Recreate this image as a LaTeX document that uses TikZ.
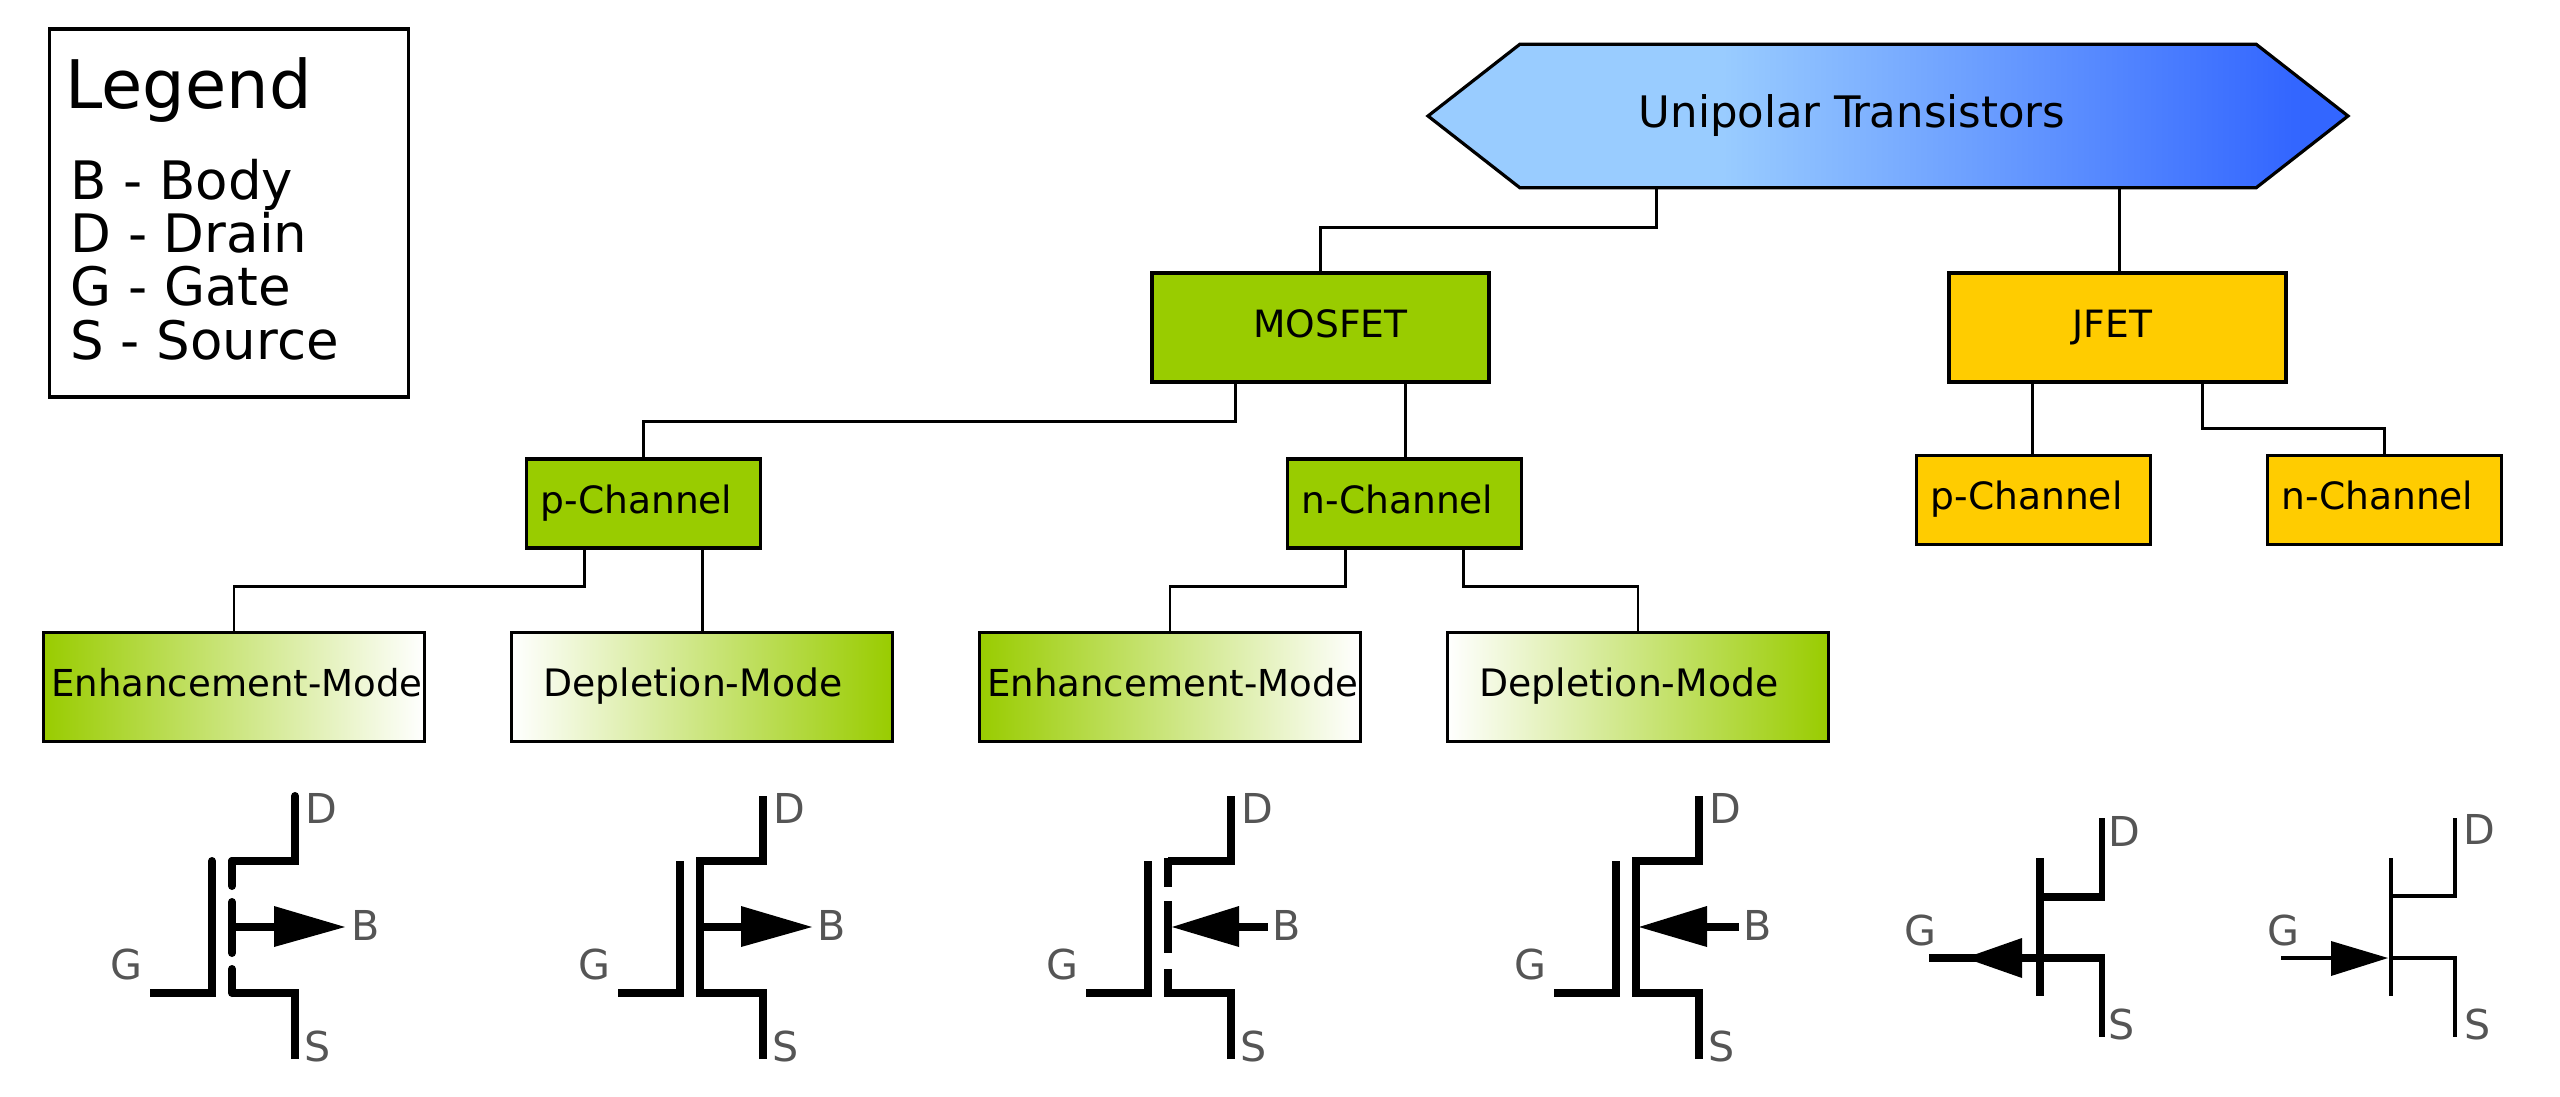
\documentclass[tikz,border=0pt]{standalone}
\usepackage{fontspec}
\setmainfont{DejaVu Sans}
\usetikzlibrary{shapes, positioning, calc}
\definecolor{mosgreen}{HTML}{99CC00}
\definecolor{jfetyellow}{HTML}{FFCC00}
\definecolor{pingray}{HTML}{555555}
\definecolor{skylight}{HTML}{99CCFF}
\definecolor{skydeep}{HTML}{3366FF}
\pgfdeclarehorizontalshading{skyfade}{100bp}{color(0bp)=(skylight); color(41bp)=(skylight); color(72bp)=(skydeep); color(100bp)=(skydeep)}
\tikzstyle{box} = [rectangle, draw, line width=1.6pt, inner sep=0pt, text height=14pt, text depth=4.5pt,
    font=\fontsize{18.8}{22}\selectfont]
\tikzstyle{family} = [box, minimum width=168.5pt, minimum height=54.5pt]
\tikzstyle{channel} = [box, minimum width=117pt, minimum height=44.5pt]
\tikzstyle{enhmode} = [box, text width=190.5pt, align=left, minimum height=54.5pt, left color=mosgreen, right color=white,
    font=\fontsize{18.55}{22}\selectfont]
\tikzstyle{depmode} = [box, minimum width=190.5pt, minimum height=54.5pt, left color=white, right color=mosgreen,
    font=\fontsize{18.9}{22}\selectfont]
\tikzstyle{top} = [signal, signal to=east and west, signal pointer angle=76, draw, line width=1.6pt, inner sep=0pt,
    minimum width=460pt, minimum height=71.8pt, shading=skyfade, text height=15pt, text depth=4pt,
    font=\fontsize{21.7}{26}\selectfont]
\tikzstyle{legendline} = [anchor=base west, inner sep=0pt, font=\fontsize{26.5}{27}\selectfont]
\tikzstyle{line} = [draw, line width=1.4pt]
\tikzstyle{lead} = [draw, line width=4pt]
\tikzstyle{midlead} = [draw, line width=3.2pt]
\tikzstyle{thinlead} = [draw, line width=2pt]
\tikzstyle{pin} = [text=pingray, inner sep=0pt, font=\fontsize{20.6}{24}\selectfont]
\begin{document}
\begin{tikzpicture}[x=0.5pt, y=-0.5pt, node distance=100pt]
        \useasboundingbox (0,0) rectangle (2560,1097);
        % Place legend
        \node [draw, line width=1.6pt, minimum width=179.5pt, minimum height=184pt, inner sep=0pt] (legend) at (229,213) {};
        \node [anchor=base west, inner sep=0pt, font=\fontsize{33.5}{38}\selectfont] (legendtitle) at (65,109) {Legend};
        \node [legendline] (legendb) at (70,199) {B - Body};
        \node [legendline] (legendd) at (70,252) {D - Drain};
        \node [legendline] (legendg) at (70,305) {G - Gate};
        \node [legendline] (legends) at (70,359) {S - Source};
        % Place nodes
        \node [top] (unipolar) at (1888,116) {Unipolar T\kern-4.5pt ransistors\hspace*{36pt}};
        \node [family, fill=mosgreen] (mosfet) at (1320.5,327.5) {\hspace*{10pt}MOSFET};
        \node [family, fill=jfetyellow, right of=mosfet, node distance=398.5pt] (jfet) {JFET\hspace*{5pt}};
        \node [channel, fill=mosgreen] (mosp) at (643.5,503.5) {p-Channel\hspace*{7pt}};
        \node [channel, fill=mosgreen, right of=mosp, node distance=380.5pt] (mosn) {n-Channel\hspace*{7pt}};
        \node [channel, fill=jfetyellow] (jfetp) at (2033.5,500) {p-Channel\hspace*{7pt}};
        \node [channel, fill=jfetyellow, right of=jfetp, node distance=175.5pt] (jfetn) {n-Channel\hspace*{7pt}};
        \node [enhmode] (penh) at (234,687) {\hspace*{3.8pt}Enhancement-Mode};
        \node [depmode, right of=penh, node distance=234pt] (pdep) {Depletion-Mode\hspace*{9pt}};
        \node [enhmode, right of=pdep, node distance=234pt] (nenh) {\hspace*{3.8pt}Enhancement-Mode};
        \node [depmode, right of=nenh, node distance=234pt] (ndep) {Depletion-Mode\hspace*{9pt}};
        % Draw edges
        \coordinate (unipolarl) at ($(unipolar.west |- unipolar.south)!0.25!(unipolar.east |- unipolar.south)$);
        \coordinate (unipolarr) at ($(unipolar.west |- unipolar.south)!0.75!(unipolar.east |- unipolar.south)$);
        \coordinate (mosfetl) at ($(mosfet.south west)!0.25!(mosfet.south east)$);
        \coordinate (mosfetr) at ($(mosfet.south west)!0.75!(mosfet.south east)$);
        \coordinate (jfetl) at ($(jfet.south west)!0.25!(jfet.south east)$);
        \coordinate (jfetr) at ($(jfet.south west)!0.75!(jfet.south east)$);
        \coordinate (mospl) at ($(mosp.south west)!0.25!(mosp.south east)$);
        \coordinate (mospr) at ($(mosp.south west)!0.75!(mosp.south east)$);
        \coordinate (mosnl) at ($(mosn.south west)!0.25!(mosn.south east)$);
        \coordinate (mosnr) at ($(mosn.south west)!0.75!(mosn.south east)$);
        \path [line] (unipolarl) -- ++(0,38) -| (mosfet.north);
        \path [line] (unipolarr) -- (unipolarr |- jfet.north);
        \path [line] (mosfetl) -- ++(0,38) -| (mosp.north);
        \path [line] (mosfetr) -- (mosfetr |- mosn.north);
        \path [line] (jfetl) -- (jfetl |- jfetp.north);
        \path [line] (jfetr) -- ++(0,45) -| (jfetn.north);
        \path [line] (mospl) -- ++(0,37) -| (penh.north);
        \path [line] (mospr) -- (mospr |- pdep.north);
        \path [line] (mosnl) -- ++(0,37) -| (nenh.north);
        \path [line] (mosnr) -- ++(0,37) -| (ndep.north);
        % MOSFET symbols
        \foreach \sx/\ends in {0/round,468/butt,936/butt,1404/butt} {
            \path [lead] (\sx+150,993) -- (\sx+212,993) -- (\sx+212,900);
            \path [lead, line cap=\ends] (\sx+212,905) -- (\sx+212,861);
            \path [lead, line cap=\ends] (\sx+295,796) -- (\sx+295,861) -- (\sx+232,861);
            \path [lead] (\sx+295,1059) -- (\sx+295,993) -- (\sx+232,993);
            \node [pin] (d\sx) at (\sx+321,808) {D};
            \node [pin] (s\sx) at (\sx+318,1046) {S};
            \node [pin] (g\sx) at (\sx+126,964) {G};
        }
        \path [lead, line cap=round] (232,861) -- (232,886) (232,902) -- (232,953) (232,969) -- (232,993);
        \path [lead] (232,927) -- (274,927);
        \fill (274,906) -- (345,927) -- (274,947) -- cycle;
        \node [pin] (b1) at (366,925) {B};
        \path [lead] (700,857) -- (700,997) (700,927) -- (741,927);
        \fill (741,906) -- (812,927) -- (741,947) -- cycle;
        \node [pin] (b2) at (832,925) {B};
        \path [lead] (1168,858) -- (1168,887) (1168,901) -- (1168,953) (1168,969) -- (1168,997);
        \path [lead] (1239,927) -- (1268,927);
        \fill (1172,927) -- (1239,906) -- (1239,947) -- cycle;
        \node [pin] (b3) at (1286.5,925) {B};
        \path [lead] (1636,857) -- (1636,997) (1707,927) -- (1739,927);
        \fill (1639,927) -- (1707,906) -- (1707,947) -- cycle;
        \node [pin] (b4) at (1758,925) {B};
        % JFET symbols
        \path [lead] (2040,858) -- (2040,996);
        \path [midlead] (2102,818) -- (2102,901);
        \path [lead] (2040,897) -- (2103.6,897);
        \path [lead] (1929,958) -- (2103.6,958);
        \path [midlead] (2102,954) -- (2102,1037);
        \fill (1965,958) -- (2022,938) -- (2022,978) -- cycle;
        \node [pin] (d5) at (2124,831) {D};
        \node [pin] (s5) at (2122,1024) {S};
        \node [pin] (g5) at (1920,930) {G};
        \path [thinlead] (2391,858) -- (2391,996);
        \path [thinlead] (2455,818) -- (2455,896) -- (2391,896);
        \path [thinlead] (2281,958) -- (2331,958) (2391,958) -- (2455,958) -- (2455,1037);
        \fill (2388,958) -- (2331,941) -- (2331,976) -- cycle;
        \node [pin] (d6) at (2479,829) {D};
        \node [pin] (s6) at (2478,1024) {S};
        \node [pin] (g6) at (2283,930) {G};
\end{tikzpicture}
\end{document}
